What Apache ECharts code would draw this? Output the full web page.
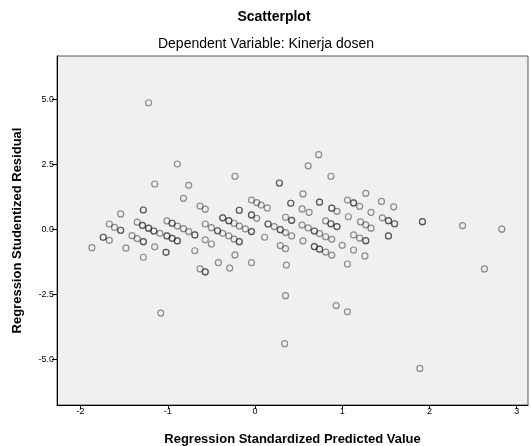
<!DOCTYPE html>
<html>
<head>
<meta charset="utf-8">
<script src="https://cdn.jsdelivr.net/npm/echarts@6/dist/echarts.min.js"></script>
<style>
html,body{margin:0;padding:0;background:#fff;}
#c{width:531px;height:446px;}
</style>
</head>
<body>
<div id="c"></div>
<script>
var predicted = [
-1.22,-0.89,-0.76,-0.82,-0.63,-0.57,-1.15,-1.54,-1.28,-1.28,-1.67,-1.61,-1.54,-1.54,-1.35,-1.29,-1.29,
-1.22,-1.22,-1.16,-1.16,-1.09,-1.74,-1.74,-1.67,-1.87,-1.48,-1.41,-1.35,-1.28,-1.28,-1.15,-1.28,
-0.23,-0.18,-0.18,-0.04,0.02,0.07,0.14,-0.04,-0.04,0.02,0.15,0.15,0.11,-0.04,
-1.01,-0.95,-0.95,-0.89,-0.82,-0.76,-0.69,-0.69,-1.01,-1.01,-0.95,-0.95,-0.89,-0.89,-1.02,-1.02,-0.69,
-0.57,-0.50,-0.43,-0.43,-0.37,-0.30,-0.24,-0.18,-0.18,-0.37,-0.37,-0.30,-0.30,-0.24,-0.18,-0.11,-0.04,-0.04,
-0.57,-0.50,-0.23,-0.42,-0.29,-0.63,-0.57,-0.57,
0.73,0.61,0.87,0.28,0.28,0.55,0.41,0.41,0.74,0.74,0.54,0.62,0.35,0.42,0.42,0.88,0.88,0.94,
1.06,1.13,1.13,1.20,1.27,1.33,1.07,0.81,0.87,0.87,0.94,0.94,1.21,1.27,1.33,
0.22,0.29,0.29,0.35,0.42,0.54,0.61,0.68,0.68,0.74,0.81,0.88,0.55,1.13,1.20,1.27,1.27,1.00,
0.68,0.68,0.74,0.74,0.81,0.88,0.29,0.35,1.13,1.26,0.36,1.06,
1.45,1.59,1.46,1.53,1.53,1.60,1.60,1.92,1.92,2.38,2.83,1.53,1.53,2.63,
0.35,-1.08,0.93,1.06,0.34,1.89
];
var residual = [
4.88,2.52,1.70,1.20,0.90,0.78,1.75,0.60,0.75,0.75,0.21,0.08,-0.03,-0.03,0.28,0.16,0.16,
0.05,0.05,-0.06,-0.06,-0.15,-0.30,-0.30,-0.42,-0.70,-0.72,-0.24,-0.35,-0.47,-0.47,-0.67,-1.07,
2.05,0.74,0.74,1.13,1.03,0.94,0.83,0.56,0.56,0.43,0.21,0.21,-0.30,-1.28,
0.33,0.24,0.24,0.13,0.03,-0.08,-0.21,-0.21,-0.25,-0.25,-0.34,-0.34,-0.44,-0.44,-0.88,-0.88,-0.82,
0.21,0.07,-0.05,-0.05,-0.15,-0.25,-0.37,-0.47,-0.47,0.45,0.45,0.34,0.34,0.24,0.13,0.02,-0.08,-0.08,
-0.40,-0.56,-0.98,-1.28,-1.49,-1.52,-1.63,-1.63,
2.88,2.45,2.05,1.79,1.79,1.37,1.01,1.01,1.05,1.05,0.79,0.66,0.47,0.35,0.35,0.82,0.82,0.70,
1.13,1.02,1.02,0.89,1.39,0.66,0.49,0.33,0.22,0.22,0.11,0.11,0.29,0.18,0.05,
0.11,-0.01,-0.01,-0.12,-0.25,0.17,0.06,-0.06,-0.06,-0.16,-0.28,-0.38,-0.44,-0.21,-0.33,-0.43,-0.43,-0.61,
-0.66,-0.66,-0.76,-0.76,-0.87,-0.99,-0.62,-0.74,-0.79,-1.02,-1.37,-1.33,
1.08,0.87,0.45,0.34,0.34,0.22,0.22,0.30,0.30,0.15,0.01,-0.25,-0.25,-1.52,
-2.55,-3.22,-2.93,-3.17,-4.40,-5.35
];
var xTicks = [-2,-1,0,1,2,3];
var yTicks = [-5,-2.5,0,2.5,5];
var titleText = 'Scatterplot';
var subtitleText = 'Dependent Variable: Kinerja dosen';
var xName = 'Regression Standardized Predicted Value';
var yName = 'Regression Studentized Residual';

var points = predicted.map(function(v,i){return [v, residual[i]];});
var FONT = '"Liberation Sans", Arial, sans-serif';
var chart = echarts.init(document.getElementById('c'), null, {renderer:'canvas'});
chart.setOption({
  animation:false,
  backgroundColor:'#ffffff',
  grid:{left:57,right:3,top:56,bottom:41,show:true,backgroundColor:'#f0f0f0',borderColor:'#555',borderWidth:1,outerBoundsMode:'none',containLabel:false},
  graphic:[
    {type:'text',x:274,y:17,style:{text:titleText,font:'bold 14px '+FONT,fill:'#000',align:'center',verticalAlign:'middle'}},
    {type:'text',x:266,y:44,style:{text:subtitleText,font:'14px '+FONT,fill:'#000',align:'center',verticalAlign:'middle'}}
  ],
  xAxis:{
    type:'value',min:-2.27,max:3.13,
    name:xName,nameLocation:'middle',nameGap:28,
    nameTextStyle:{fontFamily:FONT,fontWeight:'bold',fontSize:13,color:'#000'},
    axisLine:{show:true,onZero:false,lineStyle:{color:'#000',width:1}},
    axisTick:{show:true,length:4,customValues:xTicks,lineStyle:{color:'#000'}},
    axisLabel:{customValues:xTicks,margin:2,fontFamily:FONT,fontSize:9,color:'#000',formatter:function(v){return String(v);}},
    splitLine:{show:false}
  },
  yAxis:{
    type:'value',min:-6.76,max:6.68,
    name:yName,nameLocation:'middle',nameGap:33,
    nameTextStyle:{fontFamily:FONT,fontWeight:'bold',fontSize:13,color:'#000'},
    axisLine:{show:true,onZero:false,lineStyle:{color:'#000',width:1}},
    axisTick:{show:true,length:5,customValues:yTicks,lineStyle:{color:'#000'}},
    axisLabel:{customValues:yTicks,margin:3,fontFamily:FONT,fontSize:9,color:'#000',formatter:function(v){return v.toFixed(1);}},
    splitLine:{show:false}
  },
  series:[{
    type:'scatter',
    data:points,
    symbol:'circle',
    symbolSize:6,
    itemStyle:{color:'rgba(0,0,0,0)',borderColor:'rgba(30,30,30,0.6)',borderWidth:1.2},
    emphasis:{disabled:true}
  }]
});
</script>
</body>
</html>
